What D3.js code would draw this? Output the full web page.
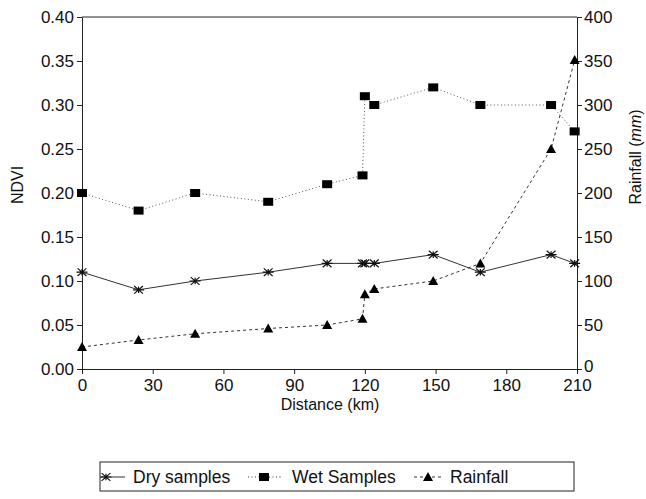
<!DOCTYPE html>
<html><head><meta charset="utf-8">
<script src="https://cdn.jsdelivr.net/npm/d3@7"></script>
<style>
body{margin:0;background:#fff;}
svg{display:block;font-family:"Liberation Sans",Arial,Helvetica,sans-serif;}
</style></head><body>
<svg id="c" width="646" height="499"></svg>
<script>
const dryX = [0, 24, 48, 79, 104, 119, 120, 124, 149, 169, 199, 209];
const dryY = [0.11, 0.09, 0.10, 0.11, 0.12, 0.12, 0.12, 0.12, 0.13, 0.11, 0.13, 0.12];
const wetX = [0, 24, 48, 79, 104, 119, 120, 124, 149, 169, 199, 209];
const wetY = [0.20, 0.18, 0.20, 0.19, 0.21, 0.22, 0.31, 0.30, 0.32, 0.30, 0.30, 0.27];
const rainX = [0, 24, 48, 79, 104, 119, 120, 124, 149, 169, 199, 209];
const rainY = [25, 33, 40, 46, 50, 57, 85, 91, 100, 120, 250, 351];
const xTicks = [0, 30, 60, 90, 120, 150, 180, 210];
const yTicks = [0, 0.05, 0.10, 0.15, 0.20, 0.25, 0.30, 0.35, 0.40];
const y2Ticks = [0, 50, 100, 150, 200, 250, 300, 350, 400];
const legendLabels = ["Dry samples", "Wet Samples", "Rainfall"];

const svg = d3.select("#c");
const L = 82, R = 577, T = 17, B = 369;
const x = d3.scaleLinear().domain([0, 210]).range([L, R]);
const y = d3.scaleLinear().domain([0, 0.40]).range([B, T]);
const y2 = d3.scaleLinear().domain([0, 400]).range([B, T]);
const ink = "#222";

// frame top
svg.append("line").attr("x1", L).attr("x2", R).attr("y1", T).attr("y2", T).attr("stroke", ink).attr("stroke-width", 1);

const ax = svg.append("g").attr("transform", `translate(0,${B})`)
  .call(d3.axisBottom(x).tickValues(xTicks).tickFormat(d3.format("d")).tickSize(5).tickSizeOuter(0));
const ay = svg.append("g").attr("transform", `translate(${L},0)`)
  .call(d3.axisLeft(y).tickValues(yTicks).tickFormat(d3.format(".2f")).tickSize(5).tickSizeOuter(0));
const ay2 = svg.append("g").attr("transform", `translate(${R},0)`)
  .call(d3.axisRight(y2).tickValues(y2Ticks).tickFormat(d3.format("d")).tickSize(5).tickSizeOuter(0));
[ax, ay, ay2].forEach(g => {
  g.selectAll("path,line").attr("stroke", ink).attr("stroke-width", 1);
  g.selectAll("text").attr("font-size", 17).attr("fill", "#111").attr("font-family", '"Liberation Sans",Arial,sans-serif');
});
ax.selectAll("text").attr("dy", "0.85em");
ay.selectAll("text").attr("x", -8);
ay2.selectAll("text").attr("x", 7);
ay2.selectAll(".tick").filter(d => d === 0).select("text").attr("y", -3);

// axis titles
svg.append("text").attr("x", 330).attr("y", 410).attr("text-anchor", "middle")
  .attr("font-size", 16).attr("fill", "#111").text("Distance (km)");
svg.append("text").attr("transform", "translate(23,185) rotate(-90)").attr("text-anchor", "middle")
  .attr("font-size", 16).attr("fill", "#111").text("NDVI");
const rt = svg.append("text").attr("transform", "translate(641,157) rotate(-90)").attr("text-anchor", "middle")
  .attr("font-size", 16).attr("fill", "#111");
rt.append("tspan").text("Rainfall (");
rt.append("tspan").attr("font-style", "italic").text("mm");
rt.append("tspan").text(")");

const line = d3.line();
const dry = dryX.map((d, i) => [x(d), y(dryY[i])]);
const wet = wetX.map((d, i) => [x(d), y(wetY[i])]);
const rain = rainX.map((d, i) => [x(d), y2(rainY[i])]);

svg.append("path").attr("d", line(dry)).attr("fill", "none").attr("stroke", "#333").attr("stroke-width", 1);
svg.append("path").attr("d", line(wet)).attr("fill", "none").attr("stroke", "#555").attr("stroke-width", 1).attr("stroke-dasharray", "1,2.5");
svg.append("path").attr("d", line(rain)).attr("fill", "none").attr("stroke", "#333").attr("stroke-width", 1).attr("stroke-dasharray", "3,3");

function star(g, cx, cy) {
  const s = 5.5;
  g.append("path").attr("d",
    `M${cx - s},${cy}L${cx + s},${cy}M${cx - s * 0.8},${cy - s * 0.7}L${cx + s * 0.8},${cy + s * 0.7}M${cx - s * 0.8},${cy + s * 0.7}L${cx + s * 0.8},${cy - s * 0.7}M${cx},${cy - s * 0.6}L${cx},${cy + s * 0.6}`)
    .attr("stroke", "#111").attr("stroke-width", 1.2).attr("fill", "none");
}
function square(g, cx, cy) {
  g.append("rect").attr("x", cx - 5).attr("y", cy - 4).attr("width", 10).attr("height", 8).attr("fill", "#000");
}
function tri(g, cx, cy) {
  g.append("path").attr("d", `M${cx},${cy - 5}L${cx + 5},${cy + 4}L${cx - 5},${cy + 4}Z`).attr("fill", "#000");
}
const mk = svg.append("g");
dry.forEach(p => star(mk, p[0], p[1]));
wet.forEach(p => square(mk, p[0], p[1]));
rain.forEach(p => tri(mk, p[0], p[1]));

// legend
const lg = svg.append("g");
lg.append("rect").attr("x", 100).attr("y", 462).attr("width", 474).attr("height", 29)
  .attr("fill", "none").attr("stroke", ink).attr("stroke-width", 1);
const ly = 477;
const items = [
  { x1: 100, x2: 125, mx: 106, tx: 133, dash: null, m: star },
  { x1: 248, x2: 282, mx: 264, tx: 292, dash: "1,2.5", m: square },
  { x1: 414, x2: 443, mx: 428, tx: 450, dash: "3,3", m: tri }
];
items.forEach((it, i) => {
  lg.append("line").attr("x1", it.x1).attr("x2", it.x2).attr("y1", ly).attr("y2", ly)
    .attr("stroke", "#333").attr("stroke-width", 1).attr("stroke-dasharray", it.dash);
  it.m(lg, it.mx, ly);
  lg.append("text").attr("x", it.tx).attr("y", ly).attr("dy", "0.35em").attr("font-size", 17.5)
    .attr("fill", "#111").text(legendLabels[i]);
});
</script>
</body></html>
